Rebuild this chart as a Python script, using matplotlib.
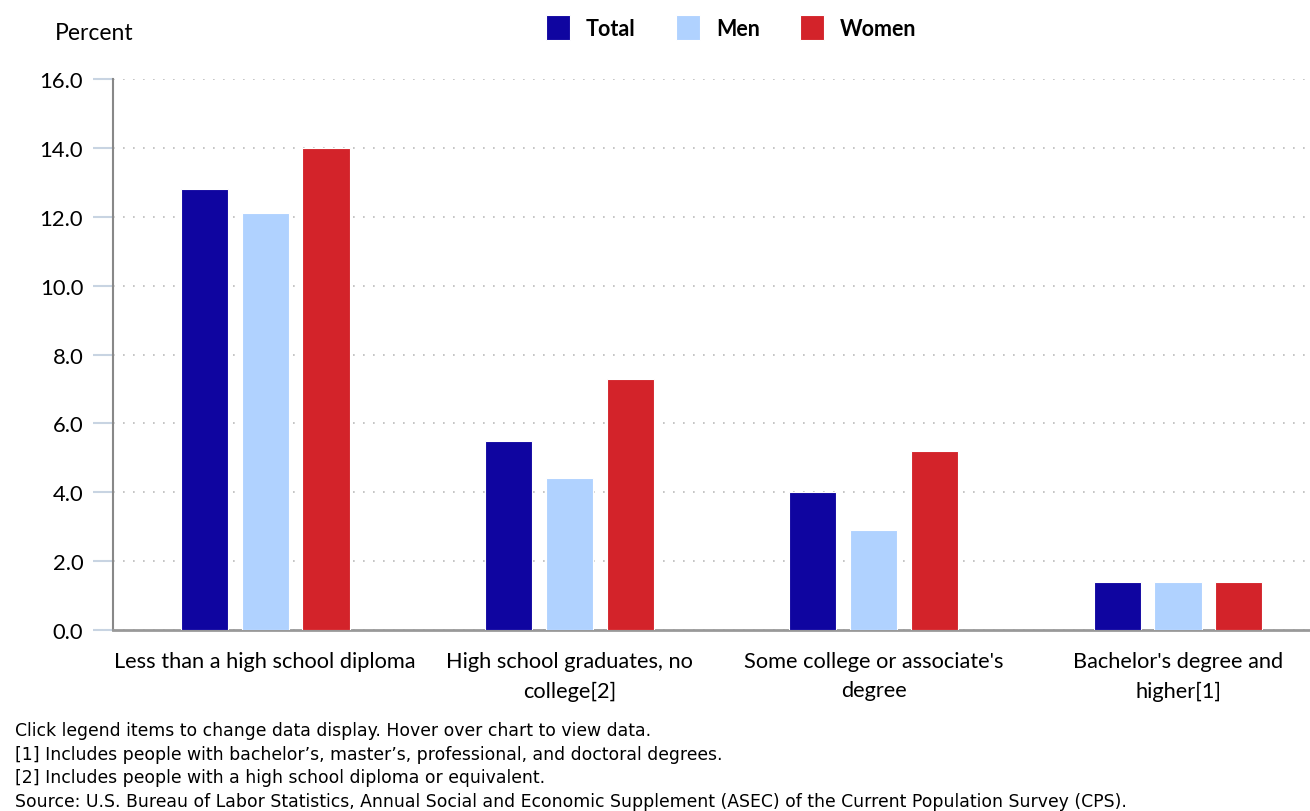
import matplotlib.pyplot as plt
import numpy as np

plt.rcParams['font.family'] = ['Lato', 'DejaVu Sans']

categories = ["Less than a high school diploma", "High school graduates, no\ncollege[2]",
              "Some college or associate's\ndegree", "Bachelor's degree and\nhigher[1]"]
total = [12.8, 5.5, 4.0, 1.4]
men = [12.1, 4.4, 2.9, 1.4]
women = [14.0, 7.3, 5.2, 1.4]
series = ["Total", "Men", "Women"]
colors = ['#0f05a0', '#b0d2ff', '#d3232a']
yticks = np.arange(0, 16.1, 2)

notes = ["Click legend items to change data display. Hover over chart to view data.",
         "[1] Includes people with bachelor\u2019s, master\u2019s, professional, and doctoral degrees.",
         "[2] Includes people with a high school diploma or equivalent.",
         "Source: U.S. Bureau of Labor Statistics, Annual Social and Economic Supplement (ASEC) of the Current Population Survey (CPS)."]

fig = plt.figure(figsize=(13.1, 8.12), dpi=100)
ax = fig.add_axes([113/1310, 181/812, 1197/1310, 551/812])

x = np.arange(len(categories))
width = 0.155
for i, vals in enumerate([total, men, women]):
    ax.bar(x + (i - 1) * 0.2, vals, width, color=colors[i], label=series[i],
           edgecolor='white', linewidth=0.8, zorder=3)

ax.set_xlim(-0.5, -0.5 + 1197/304.3)
ax.set_ylim(0, 16)
ax.set_yticks(yticks)
ax.set_yticklabels(['%.1f' % v for v in yticks], fontsize=15.8)
ax.tick_params(axis='y', length=14.5, color='#c8d4e2', width=1.5, pad=7)
ax.set_xticks(x)
ax.set_xticklabels(categories, fontsize=15.7, linespacing=1.6)
ax.tick_params(axis='x', length=0, pad=15)
ax.grid(axis='y', linestyle=(0, (1, 5)), color='#bbbbbb', linewidth=1.2, zorder=0)
for s in ['top', 'right']:
    ax.spines[s].set_visible(False)
ax.spines['left'].set_color('#888888')
ax.spines['left'].set_linewidth(1.5)
ax.spines['bottom'].set_color('#999999')
ax.spines['bottom'].set_linewidth(2)

fig.text(55/1310, 1 - 33/812, "Percent", fontsize=16.5, va='center', ha='left')

fig.legend(loc='center', bbox_to_anchor=(731/1310, 1 - 28.5/812), ncol=3, frameon=False,
           prop={'weight': 'bold', 'size': 15.5}, handlelength=1.12, handleheight=1.45,
           columnspacing=1.85, handletextpad=0.75)

for k, line in enumerate(notes):
    fig.text(15/1310, 1 - (731 + k * 23.6)/812, line, fontsize=12.4, va='center', ha='left',
             family='DejaVu Sans')

fig.savefig('out.png', dpi=100)
